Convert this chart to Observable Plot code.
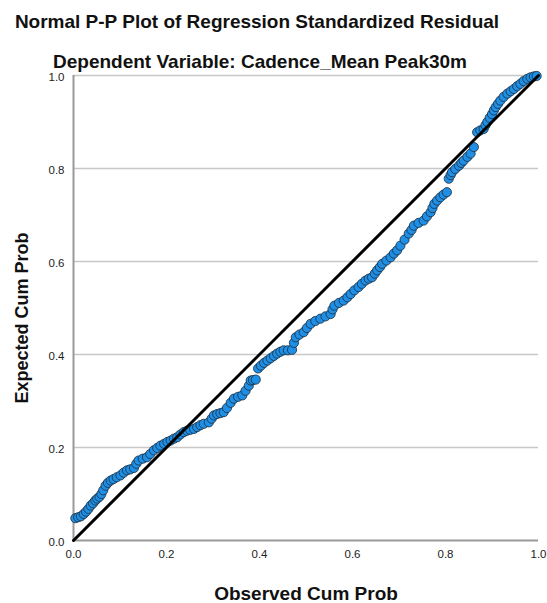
<!DOCTYPE html>
<html><head><meta charset="utf-8">
<script src="https://cdn.jsdelivr.net/npm/d3@7"></script>
<script src="https://cdn.jsdelivr.net/npm/@observablehq/plot@0.6"></script>
<style>
body{margin:0;background:#fff;font-family:"Liberation Sans",Arial,sans-serif;}
#wrap{position:relative;width:547px;height:603px;}
.t{position:absolute;left:0;text-align:center;font-weight:bold;color:#111;white-space:nowrap;}
#chart{position:absolute;left:0;top:0;}
</style></head><body><div id="wrap">
<div id="chart"></div>
<div class="t" style="top:11px;width:514px;font-size:19px">Normal P-P Plot of Regression Standardized Residual</div>
<div class="t" style="top:51px;width:520px;font-size:19px">Dependent Variable: Cadence_Mean Peak30m</div>
</div>
<script>
const observed = [0.004,0.010,0.016,0.022,0.027,0.032,0.037,0.042,0.047,0.051,0.056,0.060,0.064,0.069,0.074,0.080,0.086,0.093,0.101,0.108,
0.115,0.122,0.130,0.135,0.140,0.149,0.158,0.165,0.173,0.180,0.187,0.195,0.202,0.209,0.216,0.223,0.230,0.237,0.244,0.251,
0.259,0.266,0.273,0.280,0.291,0.297,0.302,0.309,0.316,0.323,0.330,0.338,0.345,0.354,0.363,0.370,0.377,0.381,0.386,0.392,
0.397,0.403,0.410,0.417,0.424,0.431,0.438,0.445,0.452,0.461,0.470,0.474,0.478,0.486,0.495,0.502,0.510,0.520,0.531,0.542,
0.553,0.557,0.561,0.571,0.581,0.589,0.596,0.604,0.613,0.620,0.628,0.635,0.642,0.648,0.653,0.659,0.664,0.673,0.682,0.689,
0.696,0.703,0.712,0.721,0.727,0.732,0.742,0.753,0.760,0.768,0.772,0.776,0.782,0.789,0.796,0.803,0.807,0.811,0.814,0.821,
0.829,0.834,0.839,0.847,0.854,0.861,0.868,0.875,0.882,0.886,0.890,0.895,0.900,0.904,0.908,0.913,0.918,0.925,0.933,0.940,
0.947,0.954,0.961,0.968,0.976,0.983,0.990,0.996];
const expected = [0.048,0.050,0.052,0.057,0.062,0.068,0.075,0.080,0.086,0.090,0.094,0.100,0.108,0.118,0.124,0.129,0.132,0.136,0.140,0.146,
0.151,0.153,0.156,0.165,0.172,0.176,0.179,0.186,0.194,0.199,0.204,0.208,0.212,0.215,0.219,0.222,0.228,0.233,0.236,0.238,
0.240,0.244,0.248,0.251,0.254,0.262,0.269,0.272,0.274,0.276,0.285,0.296,0.305,0.309,0.312,0.322,0.333,0.344,0.345,0.346,
0.370,0.376,0.382,0.387,0.392,0.397,0.402,0.406,0.409,0.409,0.410,0.425,0.437,0.443,0.448,0.457,0.466,0.472,0.477,0.482,
0.487,0.497,0.505,0.511,0.516,0.523,0.530,0.538,0.545,0.552,0.559,0.563,0.566,0.574,0.581,0.588,0.595,0.602,0.609,0.617,
0.624,0.634,0.647,0.660,0.668,0.677,0.683,0.688,0.697,0.706,0.715,0.724,0.731,0.738,0.744,0.749,0.778,0.786,0.792,0.799,
0.806,0.812,0.817,0.825,0.832,0.846,0.878,0.882,0.885,0.893,0.900,0.909,0.917,0.925,0.932,0.939,0.946,0.954,0.961,0.966,
0.971,0.977,0.982,0.988,0.993,0.996,0.998,0.999];
const ticks = [0, 0.2, 0.4, 0.6, 0.8, 1.0];
const gridTicks = [0.2, 0.4, 0.6, 0.8, 1.0];
const diagonal = [0, 1];
const xTitle = "Observed Cum Prob";
const yTitle = "Expected Cum Prob";

const points = observed.map((x, i) => ({x, y: expected[i]}));

const chart = Plot.plot({
  width: 547, height: 603,
  marginLeft: 73, marginRight: 9, marginTop: 75, marginBottom: 63,
  x: {domain: [0, 1]},
  y: {domain: [0, 1]},
  style: {fontFamily: "'Liberation Sans', Arial, sans-serif", fontSize: "11.5px", color: "#222", background: "#fff"},
  marks: [
    Plot.ruleY(gridTicks, {stroke: "#c8c8c8", strokeWidth: 1.5}),
    Plot.ruleY([0], {stroke: "#9a9a9a", strokeWidth: 2}),
    Plot.ruleX([0], {stroke: "#9a9a9a", strokeWidth: 2}),
    Plot.axisY(ticks, {tickSize: 0, tickPadding: 9, tickFormat: ".1f", label: null, dy: 2}),
    Plot.axisX(ticks, {tickSize: 0, tickPadding: 9, tickFormat: ".1f", label: null}),
    Plot.dot(points, {x: "x", y: "y", r: 4.6, fill: "#1f8fe5", stroke: "#1c2b3a", strokeWidth: 0.8}),
    Plot.line(diagonal, {x: d => d, y: d => d, stroke: "#000", strokeWidth: 3}),
    Plot.text([xTitle], {text: d => d, frameAnchor: "bottom", lineAnchor: "middle", dy: 53, fontSize: 19, fontWeight: "bold", fill: "#111"}),
    Plot.text([yTitle], {text: d => d, frameAnchor: "left", textAnchor: "middle", lineAnchor: "middle", dx: -51, dy: 10, rotate: -90, fontSize: 18, fontWeight: "bold", fill: "#111"})
  ]
});
document.getElementById("chart").appendChild(chart);
</script>
</body></html>
